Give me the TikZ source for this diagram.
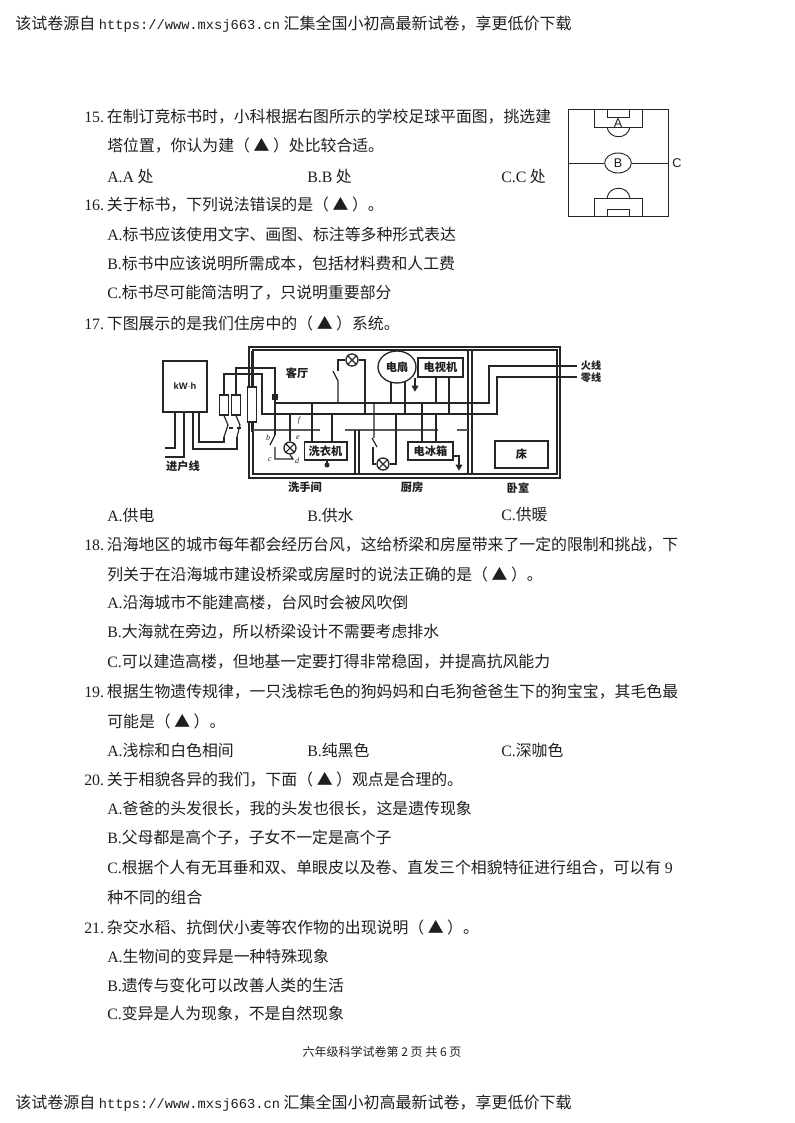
\documentclass[tikz,border=0pt]{standalone}
\usepackage{fontspec}
\usetikzlibrary{shapes.geometric}
\setmainfont{Noto Sans CJK SC}
\newfontfamily\latserif{Liberation Serif}
\newfontfamily\latsans{Liberation Sans}
\newfontfamily\latmono{Liberation Mono}
\newcommand{\qn}[1]{\makebox[17pt][l]{\latserif #1}}
\newcommand{\ls}[1]{{\latserif #1}}
\newcommand{\um}[1]{{\fontsize{10.3}{12}\latmono #1}}
\definecolor{ink}{gray}{0.12}
\definecolor{wire}{gray}{0.15}
\definecolor{soft}{gray}{0.35}
\tikzset{
  x=0.75pt,y=-0.75pt,
  txt/.style={anchor=west,inner sep=0pt,text=ink,font=\fontsize{11.9}{14}\selectfont},
  hdr/.style={anchor=west,inner sep=0pt,text=ink,font=\fontsize{12}{14}\selectfont},
  foot/.style={anchor=center,inner sep=0pt,text=ink,font=\fontsize{9}{11}\selectfont},
  field/.style={draw=wire,line width=0.7pt},
  fieldlab/.style={inner sep=0pt,text=ink,font=\fontsize{9.5}{10}\latsans},
  wr/.style={draw=wire,line width=0.9pt},
  wall/.style={draw=wire,line width=0.9pt},
  bar/.style={draw=soft,line width=2pt},
  dev/.style={draw=wire,line width=1pt,fill=white,inner sep=0pt,text=ink,font=\fontsize{8.4}{10}\selectfont\bfseries},
  lamp/.style={draw=wire,circle,line width=1pt,fill=white,minimum size=9pt,inner sep=0pt},
  lab/.style={inner sep=0pt,text=ink,font=\fontsize{8.4}{10}\selectfont\bfseries},
  linelab/.style={inner sep=0pt,text=ink,font=\fontsize{7.6}{9}\selectfont\bfseries},
  tiny/.style={inner sep=0pt,text=ink,font=\fontsize{6}{7}\latserif\itshape},
  fuse/.style={draw=wire,line width=0.9pt,fill=white,minimum width=6.5pt,minimum height=15pt,inner sep=0pt},
  gnd/.style={fill=wire,draw=wire,line width=0.4pt},
}
\newcommand{\cross}[1]{\draw[line width=0.8pt,draw=wire] (#1.45)--(#1.225) (#1.135)--(#1.315);}
\newcommand{\gsym}[2]{\fill[gnd] (#1-3,#2) -- (#1+3,#2) -- (#1,#2+5) -- cycle;}
\begin{document}
\begin{tikzpicture}
\useasboundingbox (0,0) rectangle (794,1123);
\fill[white] (0,0) rectangle (794,1123);

% header / footer
\node[hdr] (hd) at (15,24) {该试卷源自 \um{https://www.mxsj663.cn} 汇集全国小初高最新试卷，享更低价下载};
\node[hdr] (ft) at (15,1103) {该试卷源自 \um{https://www.mxsj663.cn} 汇集全国小初高最新试卷，享更低价下载};
\node[foot] (pg) at (382,1052) {六年级科学试卷第 2 页 共 6 页};

% text
\node[txt] (q15) at (84,117) {\qn{15.}在制订竞标书时，小科根据右图所示的学校足球平面图，挑选建};
\node[txt] (q15b) at (107,146) {塔位置，你认为建（ ▲ ）处比较合适。};
\node[txt] (q15A) at (107,176) {\ls{A.A} 处};
\node[txt] (q15B) at (307,176) {\ls{B.B} 处};
\node[txt] (q15C) at (501,176) {\ls{C.C} 处};
\node[txt] (q16) at (84,205) {\qn{16.}关于标书，下列说法错误的是（ ▲ ）。};
\node[txt] (q16A) at (107,234) {\ls{A.}标书应该使用文字、画图、标注等多种形式表达};
\node[txt] (q16B) at (107,264) {\ls{B.}标书中应该说明所需成本，包括材料费和人工费};
\node[txt] (q16C) at (107,293) {\ls{C.}标书尽可能简洁明了，只说明重要部分};
\node[txt] (q17) at (84,323) {\qn{17.}下图展示的是我们住房中的（ ▲ ）系统。};
\node[txt] (q17A) at (107,515) {\ls{A.}供电};
\node[txt] (q17B) at (307,515) {\ls{B.}供水};
\node[txt] (q17C) at (501,515) {\ls{C.}供暖};
\node[txt] (q18) at (84,545) {\qn{18.}沿海地区的城市每年都会经历台风，这给桥梁和房屋带来了一定的限制和挑战，下};
\node[txt] (q18b) at (107,574) {列关于在沿海城市建设桥梁或房屋时的说法正确的是（ ▲ ）。};
\node[txt] (q18A) at (107,603) {\ls{A.}沿海城市不能建高楼，台风时会被风吹倒};
\node[txt] (q18B) at (107,632) {\ls{B.}大海就在旁边，所以桥梁设计不需要考虑排水};
\node[txt] (q18C) at (107,662) {\ls{C.}可以建造高楼，但地基一定要打得非常稳固，并提高抗风能力};
\node[txt] (q19) at (84,692) {\qn{19.}根据生物遗传规律，一只浅棕毛色的狗妈妈和白毛狗爸爸生下的狗宝宝，其毛色最};
\node[txt] (q19b) at (107,721) {可能是（ ▲ ）。};
\node[txt] (q19A) at (107,750) {\ls{A.}浅棕和白色相间};
\node[txt] (q19B) at (307,750) {\ls{B.}纯黑色};
\node[txt] (q19C) at (501,750) {\ls{C.}深咖色};
\node[txt] (q20) at (84,780) {\qn{20.}关于相貌各异的我们，下面（ ▲ ）观点是合理的。};
\node[txt] (q20A) at (107,809) {\ls{A.}爸爸的头发很长，我的头发也很长，这是遗传现象};
\node[txt] (q20B) at (107,838) {\ls{B.}父母都是高个子，子女不一定是高个子};
\node[txt] (q20C) at (107,868) {\ls{C.}根据个人有无耳垂和双、单眼皮以及卷、直发三个相貌特征进行组合，可以有 \ls{9}};
\node[txt] (q20d) at (107,897) {种不同的组合};
\node[txt] (q21) at (84,927) {\qn{21.}杂交水稻、抗倒伏小麦等农作物的出现说明（ ▲ ）。};
\node[txt] (q21A) at (107,956) {\ls{A.}生物间的变异是一种特殊现象};
\node[txt] (q21B) at (107,985) {\ls{B.}遗传与变化可以改善人类的生活};
\node[txt] (q21C) at (107,1014) {\ls{C.}变异是人为现象，不是自然现象};

% football field
\draw[field] (568,109) rectangle (668,216);
\draw[field] (594,109) rectangle (642,127);
\draw[field] (607,109) rectangle (629,117);
\draw[field] (607,127) .. controls (609,140) and (628,140) .. (630,127);
\draw[field] (594,198) rectangle (642,216);
\draw[field] (607,209) rectangle (629,216);
\draw[field] (607,198) .. controls (609,185) and (628,185) .. (630,198);
\node[draw=wire,ellipse,line width=0.7pt,minimum width=20pt,minimum height=15pt,inner sep=0pt,fieldlab] (B) at (618,163) {B};
\draw[field] (568,163) -- (B.west) (B.east) -- (668,163);
\node[fieldlab] (A) at (618,123) {A};
\node[fieldlab,anchor=west] (C) at (672,163) {C};

% house walls
\draw[wall,line width=1.2pt] (249,347) rectangle (560,478);
\draw[wall] (253,350) rectangle (557,474);
\draw[wall,line width=1.2pt] (468,349) -- (468,475);
\draw[wall,line width=1.2pt] (472,349) -- (472,475);

% ground bars
\draw[bar] (253,430) -- (320,430);
\draw[bar] (345,430) -- (438,430);
\draw[bar] (457,430) -- (468,430);
\draw[wall] (355,430) -- (355,473) (359,430) -- (359,473);

% meter and feed
\node[draw=wire,line width=1pt,minimum width=33pt,minimum height=38.25pt,inner sep=0pt,font=\fontsize{7}{8}\latsans\bfseries,text=ink] (meter) at (185,386.5) {kW$\cdot$h};
\draw[wr] (175,412) -- (175,448) -- (165,448);
\draw[wr] (184,412) -- (184,457) -- (165,457);
\draw[wr] (193,412) -- (193,449) -- (237,449) -- (237,437);
\draw[wr] (199,412) -- (199,442) -- (224,442) -- (224,437);
\node[lab] (feed) at (183,466) {进户线};

% main wires
\draw[wr,line width=1.2pt] (577,366) -- (489,366) -- (489,403) -- (275,403);
\draw[wr,line width=1.2pt] (577,377) -- (497,377) -- (497,414) -- (262,414) -- (262,374) -- (224,374) -- (224,395);
\draw[wr] (236,395) -- (236,368) -- (275,368) -- (275,435);
\draw[wr] (252,351) -- (252,387);
\draw[wr] (252,422) -- (252,432);

% fuses and switch
\node[fuse] (f1) at (224,405) {};
\node[fuse] (f2) at (236,405) {};
\node[fuse,minimum width=6.75pt,minimum height=26.25pt] (cyl) at (252,404.5) {};
\draw[wr] (f1.south) -- (228,425) (f2.south) -- (240,425);
\draw[wr] (224,437) -- (228,425) (237,437) -- (240,425);
\draw[wr,dashed] (229,428) -- (241,428);

\node[fill=wire,inner sep=0pt,minimum size=4pt] (sq) at (275,397) {};

% living room
\node[lab] (ket) at (297,373) {客厅};
\node[lamp] (l1) at (352,360) {};\cross{l1}
\draw[wr] (338,403) -- (338,381) -- (333,371);
\draw[wr] (338,371) -- (338,360) -- (l1.west);
\draw[wr] (l1.east) -- (365,360) -- (365,414);

% fan
\node[dev,ellipse,minimum width=28.5pt,minimum height=24pt] (fan) at (397,367) {电扇};
\draw[wr] (391,382) -- (391,403) (405,381) -- (405,414);
\draw[wr] (415,378) -- (415,386);
\gsym{415}{386}

% TV
\node[dev,minimum width=33.75pt,minimum height=14.25pt] (tv) at (440.5,367.5) {电视机};
\draw[wr] (436,377) -- (436,403) (449,377) -- (449,414);

% bathroom
\node[lamp] (l2) at (290,448) {};\cross{l2}
\draw[wr] (290,414) -- (l2.north);
\draw[wr] (275,435) -- (270,445);
\draw[wr] (275,447) -- (275,459) -- (293,459) -- (l2.south);
\node[tiny] (lb) at (268,438) {b};
\node[tiny] (lc) at (270,460) {c};
\node[tiny] (ld) at (297,461) {d};
\node[tiny] (le) at (298,438) {e};
\node[tiny] (lf) at (299,421) {f};

% washing machine
\node[dev,minimum width=32pt,minimum height=13.5pt] (wash) at (325.5,451) {洗衣机};
\draw[wr] (312,403) -- (312,442) (332,414) -- (332,442);
\draw[wr] (327,460) -- (327,463);
\fill[wire] (327,465) circle (2.5);

% kitchen
\node[lamp] (l3) at (383,464) {};\cross{l3}
\draw[wr] (374,403) -- (374,438) (372,438) -- (377,447);
\draw[wr] (373,447) -- (373,464) -- (l3.west);
\draw[wr] (l3.east) -- (396,464) -- (396,414);

% fridge
\node[dev,minimum width=33.75pt,minimum height=13.5pt] (frd) at (430.5,451) {电冰箱};
\draw[wr] (422,403) -- (422,442) (436,414) -- (436,442);
\draw[wr] (453,456) -- (459,456) -- (459,465);
\gsym{459}{465}

% bed
\node[dev,line width=1.2pt,minimum width=39.75pt,minimum height=20.25pt] (bed) at (521.5,454.5) {床};

% labels
\node[lab] (wc) at (305,487) {洗手间};
\node[lab] (kit) at (412,487) {厨房};
\node[lab] (bedr) at (518,488) {卧室};
\node[linelab] (hot) at (591,366) {火线};
\node[linelab] (neu) at (591,378) {零线};
\end{tikzpicture}
\end{document}
